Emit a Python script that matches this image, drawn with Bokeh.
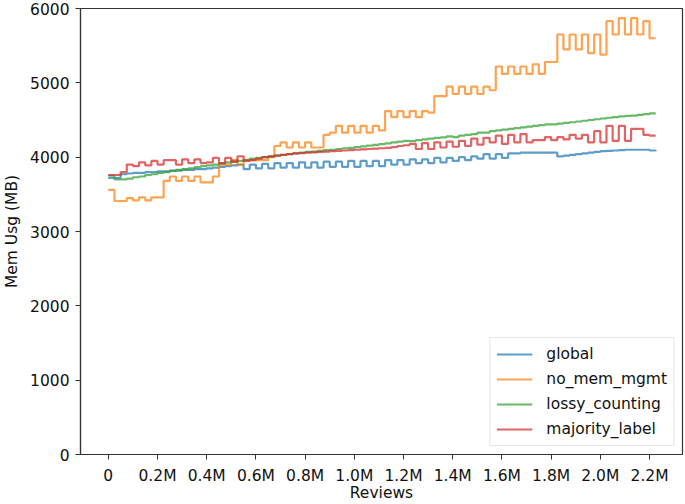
from bokeh.plotting import figure
from bokeh.models import Range1d, FixedTicker, CustomJSTickFormatter, Legend, LegendItem
from bokeh.embed import file_html
from bokeh.resources import INLINE

# x positions: samples every 25k reviews
reviews = [i * 25000 for i in range(90)]

global_mem = [3720, 3720, 3770, 3780, 3790, 3790, 3800, 3800, 3810, 3810,
              3820, 3820, 3830, 3830, 3840, 3840, 3850, 3860, 3870, 3880,
              3890, 3900, 3840, 3900, 3850, 3910, 3850, 3920, 3860, 3920,
              3860, 3930, 3860, 3930, 3860, 3940, 3870, 3940, 3870, 3950,
              3870, 3950, 3880, 3950, 3880, 3960, 3900, 3960, 3900, 3970,
              3920, 3970, 3920, 3990, 3930, 3990, 3950, 4000, 3960, 4010,
              3980, 4040, 3980, 4040, 3990, 4050, 4050, 4060, 4060, 4060,
              4060, 4060, 4060, 4010, 4020, 4030, 4040, 4050, 4060, 4070,
              4080, 4085, 4090, 4095, 4100, 4100, 4100, 4100, 4090, 4080]

no_mem_mgmt = [3560, 3410, 3410, 3450, 3420, 3460, 3420, 3460, 3460, 3680,
               3740, 3680, 3740, 3680, 3740, 3660, 3660, 3740, 3900, 3900,
               3960, 3900, 3960, 3960, 3960, 3960, 4000, 4150, 4200, 4130,
               4200, 4130, 4200, 4130, 4130, 4300, 4330, 4420, 4330, 4420,
               4330, 4420, 4330, 4420, 4360, 4620, 4540, 4620, 4540, 4620,
               4540, 4620, 4600, 4820, 4820, 4950, 4850, 4950, 4850, 4950,
               4850, 4950, 4900, 5220, 5120, 5220, 5120, 5220, 5120, 5250,
               5120, 5280, 5280, 5650, 5450, 5650, 5450, 5650, 5400, 5650,
               5380, 5830, 5650, 5870, 5650, 5870, 5650, 5830, 5600, 5600]

lossy_counting = [3750, 3700, 3700, 3710, 3730, 3740, 3760, 3770, 3790, 3800,
                  3815, 3830, 3840, 3850, 3865, 3880, 3890, 3900, 3915, 3930,
                  3940, 3950, 3965, 3980, 3990, 4000, 4010, 4020, 4030, 4040,
                  4050, 4060, 4070, 4075, 4085, 4095, 4100, 4110, 4120, 4125,
                  4135, 4145, 4155, 4165, 4175, 4185, 4200, 4210, 4220, 4215,
                  4230, 4240, 4250, 4260, 4265, 4280, 4270, 4290, 4300, 4310,
                  4330, 4330, 4350, 4360, 4370, 4380, 4390, 4400, 4410, 4420,
                  4430, 4440, 4440, 4450, 4460, 4470, 4480, 4490, 4500, 4510,
                  4520, 4530, 4540, 4550, 4555, 4560, 4570, 4580, 4590, 4590]

majority_label = [3760, 3760, 3800, 3900, 3880, 3930, 3890, 3950, 3900, 3960,
                  3960, 3900, 3970, 3920, 3970, 3920, 3930, 3990, 3920, 3990,
                  3940, 4010, 3950, 3960, 3980, 4000, 4010, 4020, 4030, 4040,
                  4050, 4055, 4060, 4065, 4070, 4075, 4080, 4085, 4090, 4095,
                  4100, 4105, 4110, 4115, 4120, 4125, 4135, 4150, 4160, 4180,
                  4110, 4190, 4110, 4200, 4130, 4210, 4140, 4220, 4150, 4250,
                  4170, 4260, 4200, 4290, 4180, 4300, 4200, 4310, 4200, 4230,
                  4230, 4270, 4230, 4270, 4240, 4300, 4250, 4300, 4200, 4350,
                  4200, 4420, 4220, 4420, 4220, 4380, 4380, 4300, 4290, 4290]

series_names = ["global", "no_mem_mgmt", "lossy_counting", "majority_label"]
series_values = [global_mem, no_mem_mgmt, lossy_counting, majority_label]
colors = ["#1f77b4", "#ff7f0e", "#2ca02c", "#d62728"]

x_ticks = [0, 200000, 400000, 600000, 800000, 1000000, 1200000,
           1400000, 1600000, 1800000, 2000000, 2200000]
y_ticks = [0, 1000, 2000, 3000, 4000, 5000, 6000]

FONT = "DejaVu Sans"
FS = "15.5px"

p = figure(width=685, height=504, output_backend="svg", toolbar_location=None,
           x_range=Range1d(-113000, 2334000), y_range=Range1d(0, 6000),
           min_border_left=80, min_border_right=3, min_border_top=8, min_border_bottom=48)

p.xgrid.visible = False
p.ygrid.visible = False
p.outline_line_color = "#333333"
p.outline_line_width = 1.2

items = []
for name, vals, c in zip(series_names, series_values, colors):
    r = p.step(reviews, vals, mode="after", line_color=c, line_width=2.2, line_alpha=0.72)
    items.append(LegendItem(label=name, renderers=[r]))

p.xaxis.ticker = FixedTicker(ticks=x_ticks)
p.yaxis.ticker = FixedTicker(ticks=y_ticks)
p.xaxis.formatter = CustomJSTickFormatter(code="""
    if (tick == 0) { return "0"; }
    return (tick / 1e6).toFixed(1) + "M";
""")

for ax in [p.xaxis[0], p.yaxis[0]]:
    ax.major_label_text_font = FONT
    ax.major_label_text_font_size = FS
    ax.major_label_text_color = "#111111"
    ax.axis_label_text_font = FONT
    ax.axis_label_text_font_size = FS
    ax.axis_label_text_font_style = "normal"
    ax.axis_label_text_color = "#111111"
    ax.axis_line_color = "#333333"
    ax.axis_line_width = 1.2
    ax.major_tick_line_color = "#333333"
    ax.major_tick_out = 5
    ax.major_tick_in = 0
    ax.minor_tick_out = 0
    ax.minor_tick_in = 0

p.xaxis.major_label_standoff = 7
p.yaxis.major_label_standoff = 6
p.xaxis.axis_label = "Reviews"
p.yaxis.axis_label = "Mem Usg (MB)"
p.xaxis.axis_label_standoff = -4
p.yaxis.axis_label_standoff = 6

legend = Legend(items=items, location="bottom_right")
legend.label_text_font = FONT
legend.label_text_font_size = FS
legend.label_text_color = "#111111"
legend.glyph_width = 36
legend.glyph_height = 20
legend.label_height = 20
legend.label_standoff = 14
legend.spacing = 5
legend.padding = 6
legend.margin = 8
legend.border_line_color = "#cccccc"
legend.border_line_width = 1
legend.background_fill_alpha = 0.8
p.add_layout(legend)

open("out.html", "w").write(file_html(p, INLINE))
